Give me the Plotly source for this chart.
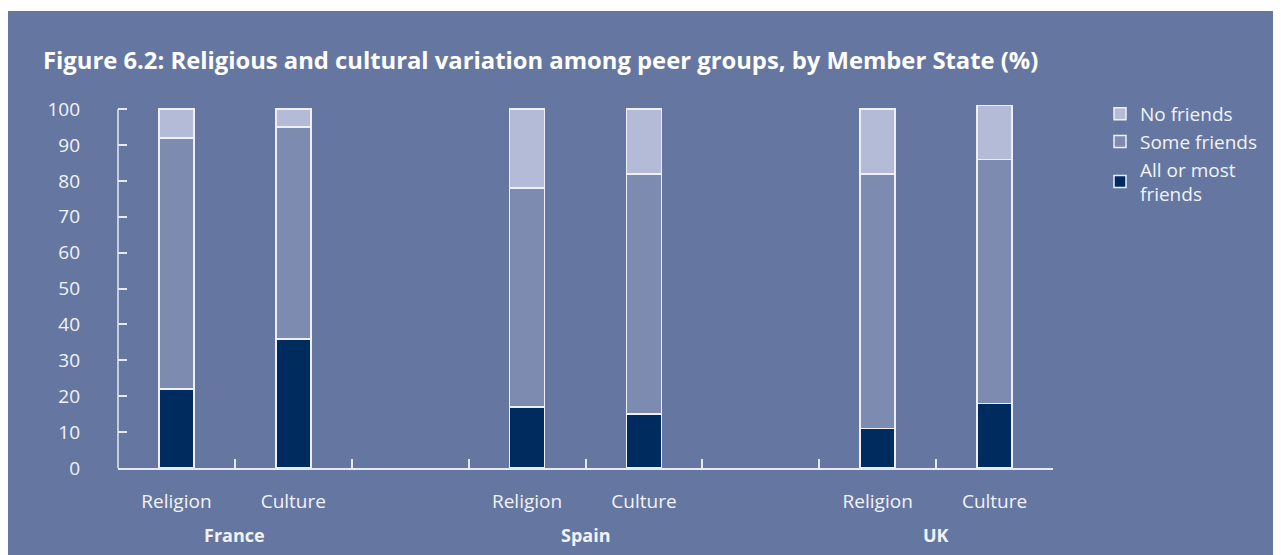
import plotly.graph_objects as go

categories = ["France Religion", "France Culture", "gap1", "Spain Religion", "Spain Culture", "gap2", "UK Religion", "UK Culture"]
tick_labels = ["Religion", "Culture", "", "Religion", "Culture", "", "Religion", "Culture"]
bar_categories = ["France Religion", "France Culture", "Spain Religion", "Spain Culture", "UK Religion", "UK Culture"]
all_or_most = [22, 36, 17, 15, 11, 18]
some = [70, 59, 61, 67, 71, 68]
none_ = [8, 5, 22, 18, 18, 15]
countries = ["France", "Spain", "UK"]
country_centers = [0.5, 3.5, 6.5]
yticks = list(range(0, 101, 10))

BG = "#6577a0"
FONT = "Open Sans"
TXT = "#f2f3f8"
AX = "#e6e9f2"

L, R, T, B = 110, 236, 94, 95
PW, PH = 1281 - L - R, 555 - T - B

fig = go.Figure()
series = [("All or most<br>friends", all_or_most, "#002b5e"),
          ("Some friends", some, "#7d8bb0"),
          ("No friends", none_, "#b4bbd6")]
for name, vals, col in series:
    fig.add_trace(go.Bar(x=bar_categories, y=vals, name=name, width=0.3,
                         marker=dict(color=col, line=dict(color="#eef0f6", width=1.5))))

shapes = [
    dict(type="rect", xref="paper", yref="paper", x0=-L/PW, x1=(1281-L)/PW,
         y0=(PH + T - 3) / PH, y1=(PH + T + 5) / PH,
         fillcolor="white", line=dict(width=0), layer="below"),
    dict(type="line", xref="paper", yref="y", x0=0, x1=0, y0=0, y1=100,
         line=dict(color=AX, width=1.5)),
]
annotations = [dict(text="<b>"+c+"</b>", x=xc, y=(460 - 527) / PH, xref="x", yref="paper",
                    showarrow=False, font=dict(family=FONT, size=18, color=TXT),
                    xanchor="center", yanchor="middle")
               for c, xc in zip(countries, country_centers)]
annotations.append(dict(text="<b>Figure 6.2: Religious and cultural variation among peer groups, by Member State (%)</b>",
                        x=(33-L)/PW, y=(460-52)/PH, xref="paper", yref="paper",
                        showarrow=False, xanchor="left", yanchor="middle",
                        font=dict(family=FONT, size=23.8, color="white")))

fig.update_layout(
    width=1281, height=555,
    margin=dict(l=L, r=R, t=T, b=B),
    paper_bgcolor=BG, plot_bgcolor="rgba(0,0,0,0)",
    barmode="stack", bargap=0.7,
    font=dict(family=FONT, size=19, color=TXT),
    shapes=shapes, annotations=annotations,
    legend=dict(x=(1092-L)/PW, y=(460-87)/PH, xanchor="left", yanchor="top",
                traceorder="reversed", bgcolor="rgba(0,0,0,0)",
                font=dict(family=FONT, size=19, color=TXT), tracegroupgap=0),
    xaxis=dict(type="category", categoryorder="array", categoryarray=categories,
               tickmode="array", tickvals=categories, ticktext=tick_labels,
               tickson="boundaries", ticks="inside", ticklen=9, tickwidth=1.5,
               tickcolor=AX, showline=True, linecolor=AX, linewidth=1.5,
               showgrid=False, range=[-0.5, 7.5], ticklabelstandoff=15,
               tickfont=dict(family=FONT, size=19, color=TXT)),
    yaxis=dict(range=[0, 102], tickvals=yticks, ticks="inside", ticklen=9, tickwidth=1.5,
               tickcolor=AX, showline=False, showgrid=False, zeroline=False,
               ticklabelstandoff=37, tickfont=dict(family=FONT, size=19, color=TXT)),
)
fig.write_html("out.html")
